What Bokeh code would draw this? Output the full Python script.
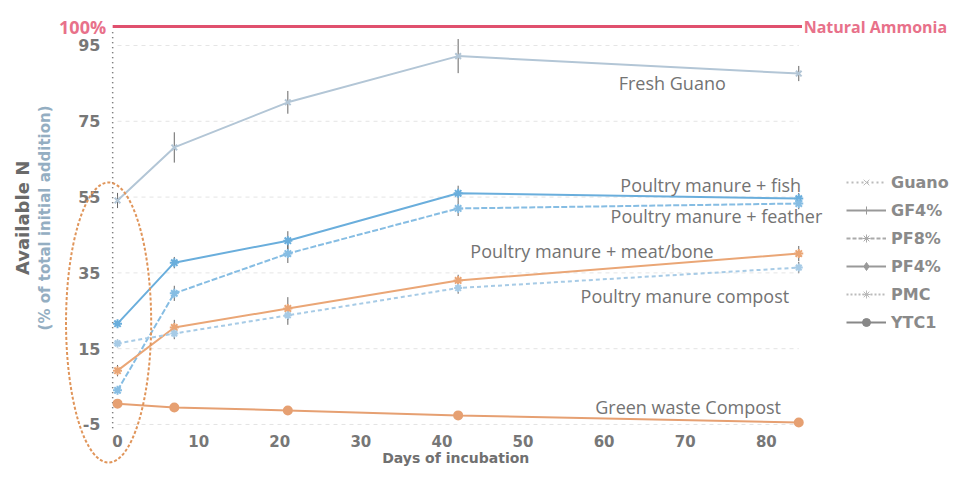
from bokeh.plotting import figure
from bokeh.models import Range1d, ColumnDataSource, Whisker, Legend, LegendItem
from bokeh.core.properties import value
from bokeh.embed import file_html
from bokeh.resources import INLINE

# ---------------- data ----------------
days = [0, 7, 21, 42, 84]
fresh_guano = [54.1, 68.1, 80.0, 92.2, 87.6]
fresh_guano_err = [2.0, 4.0, 3.0, 4.5, 2.0]
pm_fish = [21.6, 37.7, 43.5, 56.0, 54.6]
pm_fish_err = [1.0, 1.5, 2.5, 2.0, 1.5]
pm_feather = [4.0, 29.6, 40.1, 52.0, 53.3]
pm_feather_err = [1.0, 2.0, 2.5, 2.0, 1.5]
pm_meat_bone = [9.2, 20.6, 25.6, 33.0, 40.1]
pm_meat_bone_err = [1.5, 2.0, 3.0, 1.5, 2.0]
pm_compost = [16.4, 19.0, 23.8, 31.0, 36.4]
pm_compost_err = [1.0, 1.5, 2.5, 1.5, 1.5]
green_waste = [0.5, -0.5, -1.3, -2.6, -4.5]
green_waste_err = [0.6, 0.6, 0.6, 0.6, 0.6]

natural_ammonia = 100
y_ticks = [95, 75, 55, 35, 15, -5]
x_ticks = [0, 10, 20, 30, 40, 50, 60, 70, 80]
legend_labels = ["Guano", "GF4%", "PF8%", "PF4%", "PMC", "YTC1"]

series_labels = ["Fresh Guano", "Poultry manure + fish", "Poultry manure + feather",
                 "Poultry manure + meat/bone", "Poultry manure compost", "Green waste Compost"]
series_label_x = [61.8, 62.0, 60.8, 43.5, 57.1, 58.9]
series_label_y = [85.2, 58.3, 50.1, 40.9, 29.0, -0.3]

# ---------------- figure ----------------
p = figure(width=953, height=467, output_backend="svg", toolbar_location=None,
           x_range=Range1d(-14.43, 103.08), y_range=Range1d(-16.35, 106.87),
           x_axis_location=None, y_axis_location=None, min_border=0)
p.grid.visible = False
p.outline_line_color = None
p.background_fill_color = "white"

TICK_FONT = value("DejaVu Sans")
TICK_COLOR = "#777777"

# faint gridlines
p.multi_line(xs=[[0, 84] for _ in y_ticks], ys=[[t, t] for t in y_ticks],
             line_color="#d8d8d8", line_dash="4 4", line_width=1, line_alpha=0.7)
# y axis dotted line
p.line(x=[-0.6, -0.6], y=[-6, 99], line_color="#555555", line_dash="1 4", line_width=1.5)

# tick labels
p.text(x=[-2.1] * len(y_ticks), y=y_ticks, text=[str(t) for t in y_ticks],
       text_align="right", text_baseline="middle", text_font=TICK_FONT,
       text_font_style="bold", text_font_size="16px", text_color=TICK_COLOR)
p.text(x=x_ticks, y=[-9.4] * len(x_ticks), text=[str(t) for t in x_ticks],
       text_align="center", text_baseline="middle", text_font=TICK_FONT,
       text_font_style="bold", text_font_size="15px", text_color=TICK_COLOR)
p.text(x=[41.7], y=[-13.9], text=["Days of incubation"], text_align="center",
       text_baseline="middle", text_font=TICK_FONT, text_font_style="bold",
       text_font_size="14px", text_color="#707070")
p.text(x=[-11.7], y=[49.5], text=["Available N"], angle=1.5708, text_align="center",
       text_baseline="middle", text_font=TICK_FONT, text_font_style="bold",
       text_font_size="18px", text_color="#6a6a6a")
p.text(x=[-8.9], y=[49.5], text=["(% of total initial addition)"], angle=1.5708,
       text_align="center", text_baseline="middle", text_font=TICK_FONT,
       text_font_style="bold", text_font_size="15px", text_color="#94aec2")

# natural ammonia reference line
p.line(x=[-0.6, 84.4], y=[natural_ammonia, natural_ammonia], line_color="#e0506e", line_width=3)
p.text(x=[-1.4], y=[natural_ammonia], text=["100%"], text_align="right", text_baseline="middle",
       text_font=value("Open Sans"), text_font_style="bold", text_font_size="18px",
       text_color="#e8718a")
p.text(x=[84.6], y=[natural_ammonia], text=["Natural Ammonia"], text_align="left",
       text_baseline="middle", text_font=value("Open Sans"), text_font_style="bold",
       text_font_size="16px", text_color="#e8718a")

# series
series = [
    (fresh_guano, fresh_guano_err, "#b3c6d6", None, "x", 8),
    (pm_fish, pm_fish_err, "#6aaedc", None, "asterisk", 9),
    (pm_feather, pm_feather_err, "#86bde3", "6 2", "asterisk", 9),
    (pm_meat_bone, pm_meat_bone_err, "#eaa676", None, "asterisk", 9),
    (pm_compost, pm_compost_err, "#a7cbe6", "4 3", "asterisk", 8),
    (green_waste, green_waste_err, "#e6a072", None, "circle", 8),
]
for vals, errs, col, dash, mk, sz in series:
    src = ColumnDataSource(dict(x=days, y=vals,
                                lo=[v - e for v, e in zip(vals, errs)],
                                hi=[v + e for v, e in zip(vals, errs)]))
    if dash:
        p.line("x", "y", source=src, line_color=col, line_width=2, line_dash=dash)
    else:
        p.line("x", "y", source=src, line_color=col, line_width=2)
    p.add_layout(Whisker(base="x", lower="lo", upper="hi", source=src,
                         line_color="#666666", line_width=1,
                         upper_head=None, lower_head=None))
    p.scatter("x", "y", source=src, marker=mk, size=sz, line_color=col,
              fill_color=col, line_width=2)

# series labels
p.text(x=series_label_x, y=series_label_y, text=series_labels, text_align="left",
       text_baseline="middle", text_font=value("Open Sans"), text_font_size="18px",
       text_color="#737373")

# highlight ellipse around day 0
p.ellipse(x=[-1.1], y=[21.9], width=[10.5], height=[73.9], fill_color=None,
          line_color="#e0955a", line_width=2, line_dash="3 2")

# legend (grey, as in the reference)
nan = float("nan")
leg_styles = [("2 3", "x", "#bbbbbb"), (None, "cross", "#999999"), ("4 2", "asterisk", "#aaaaaa"),
              (None, "diamond", "#999999"), ("2 2", "asterisk", "#bbbbbb"), (None, "circle", "#888888")]
items = []
for lab, (dash, mk, col) in zip(legend_labels, leg_styles):
    if dash:
        r1 = p.line(x=[nan, nan], y=[nan, nan], line_color=col, line_width=2, line_dash=dash)
    else:
        r1 = p.line(x=[nan, nan], y=[nan, nan], line_color=col, line_width=2)
    r2 = p.scatter(x=[nan], y=[nan], marker=mk, size=7, line_color=col, fill_color=col)
    items.append(LegendItem(label=lab, renderers=[r1, r2]))
legend = Legend(items=items, location=(846, 135), glyph_width=40, glyph_height=20,
                label_height=20, spacing=8, padding=5, margin=0,
                label_text_font="DejaVu Sans", label_text_font_style="bold",
                label_text_font_size="16px", label_text_color="#8a8a8a",
                border_line_color=None, background_fill_alpha=0)
p.add_layout(legend)

open("out.html", "w").write(file_html(p, INLINE))
